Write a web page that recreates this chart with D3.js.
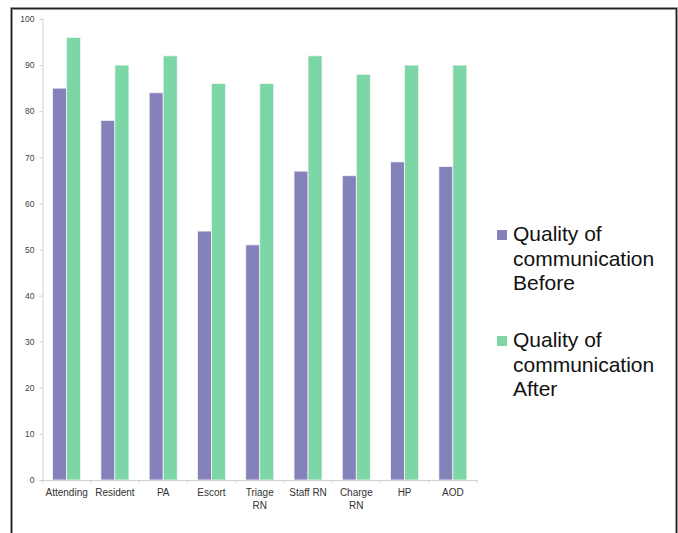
<!DOCTYPE html>
<html>
<head>
<meta charset="utf-8">
<script src="https://cdn.jsdelivr.net/npm/d3@7"></script>
<style>
  html, body { margin: 0; padding: 0; background: #fff; }
  svg { display: block; }
</style>
</head>
<body>
<svg id="chart" width="678" height="533"></svg>
<script>
// Survey results per role: quality of communication before and after
const categories = ["Attending", "Resident", "PA", "Escort", "Triage RN", "Staff RN", "Charge RN", "HP", "AOD"];
const categoryLines = [["Attending"], ["Resident"], ["PA"], ["Escort"], ["Triage", "RN"], ["Staff RN"], ["Charge", "RN"], ["HP"], ["AOD"]];
const seriesNames = ["Quality of communication Before", "Quality of communication After"];
const legendLines = [["Quality of", "communication", "Before"], ["Quality of", "communication", "After"]];
const beforeValues = [85, 78, 84, 54, 51, 67, 66, 69, 68];
const afterValues = [96, 90, 92, 86, 86, 92, 88, 90, 90];
const yTicks = [0, 10, 20, 30, 40, 50, 60, 70, 80, 90, 100];
const colors = ["#8581ba", "#7dd6a5"];

const svg = d3.select("#chart");

// frame around the whole figure (open at the bottom)
svg.append("path")
  .attr("d", "M11.5,540 L11.5,8.5 L676.5,8.5 L676.5,540")
  .attr("fill", "none")
  .attr("stroke", "#bbb")
  .attr("stroke-width", 3);
svg.append("path")
  .attr("d", "M11.5,540 L11.5,8.5 L676.5,8.5 L676.5,540")
  .attr("fill", "none")
  .attr("stroke", "#222")
  .attr("stroke-width", 1.4);

const plot = { left: 42.5, right: 477, top: 19, bottom: 480 };

const x = d3.scaleBand()
  .domain(categories)
  .range([plot.left, plot.right])
  .paddingInner(0)
  .paddingOuter(0);

const y = d3.scaleLinear()
  .domain([0, 100])
  .range([plot.bottom, plot.top]);

const groupFrac = 0.58;
const x1 = d3.scaleBand()
  .domain([0, 1])
  .range([x.bandwidth() * (1 - groupFrac) / 2, x.bandwidth() * (1 + groupFrac) / 2]);

// y axis
const yAxis = svg.append("g")
  .attr("transform", `translate(${plot.left},0)`)
  .call(d3.axisLeft(y).tickValues(yTicks).tickSize(3).tickPadding(5));
yAxis.select(".domain").attr("stroke", "#d0d0d0");
yAxis.selectAll(".tick line").attr("stroke", "#d0d0d0");
yAxis.selectAll(".tick text")
  .attr("fill", "#444")
  .style("font-family", "Liberation Sans, Arial, sans-serif")
  .style("font-size", "8.5px");

// bars
const groups = svg.append("g").selectAll("g")
  .data(categories)
  .join("g")
  .attr("transform", d => `translate(${x(d)},0)`);

groups.selectAll("rect")
  .data((d, i) => [beforeValues[i], afterValues[i]])
  .join("rect")
  .attr("x", (d, j) => x1(j))
  .attr("width", x1.bandwidth())
  .attr("y", d => y(d))
  .attr("height", d => plot.bottom - y(d))
  .attr("fill", (d, j) => colors[j])
  .attr("stroke", "#f4f4f4")
  .attr("stroke-width", 0.8);

// x axis
const xAxis = svg.append("g")
  .attr("transform", `translate(0,${plot.bottom})`)
  .call(d3.axisBottom(x).tickSize(0).tickFormat(""));
xAxis.select(".domain").attr("stroke", "#d0d0d0");
xAxis.selectAll(".tick").remove();

// category separators
svg.append("g").selectAll("line")
  .data(categories.concat(["end"]))
  .join("line")
  .attr("x1", (d, i) => plot.left + i * x.bandwidth())
  .attr("x2", (d, i) => plot.left + i * x.bandwidth())
  .attr("y1", plot.bottom)
  .attr("y2", plot.bottom + 3)
  .attr("stroke", "#d0d0d0");

// category labels
const labels = svg.append("g").selectAll("text")
  .data(categories)
  .join("text")
  .attr("x", d => x(d) + x.bandwidth() / 2)
  .attr("y", plot.bottom + 16)
  .attr("text-anchor", "middle")
  .attr("fill", "#333")
  .style("font-family", "Liberation Sans, Arial, sans-serif")
  .style("font-size", "10px");
labels.selectAll("tspan")
  .data((d, i) => categoryLines[i])
  .join("tspan")
  .attr("x", function () { return d3.select(this.parentNode).attr("x"); })
  .attr("dy", (d, i) => i === 0 ? 0 : 12.5)
  .text(d => d);

// legend
const legend = svg.append("g").selectAll("g")
  .data(seriesNames)
  .join("g")
  .attr("transform", (d, i) => `translate(497,${241 + i * 106})`);

legend.append("rect")
  .attr("x", 0)
  .attr("y", -11)
  .attr("width", 10)
  .attr("height", 10)
  .attr("fill", (d, i) => colors[i]);

legend.append("text")
  .attr("x", 16)
  .attr("y", 0)
  .attr("fill", "#111")
  .style("font-family", "Liberation Sans, Arial, sans-serif")
  .style("font-size", "21px")
  .selectAll("tspan")
  .data((d, i) => legendLines[i])
  .join("tspan")
  .attr("x", 16)
  .attr("dy", (d, i) => i === 0 ? 0 : 24.5)
  .text(d => d);
</script>
</body>
</html>
